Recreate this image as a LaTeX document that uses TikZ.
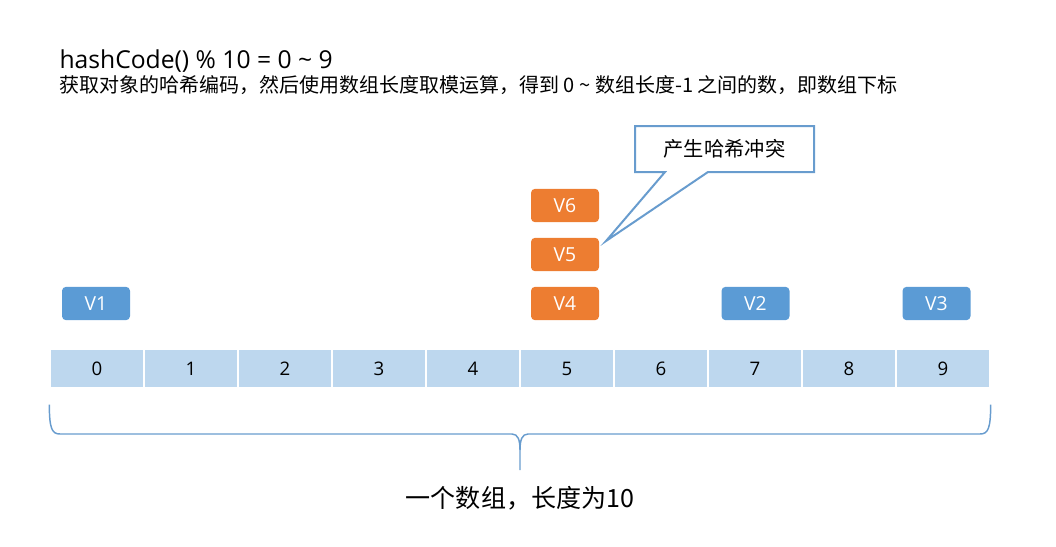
\documentclass[tikz,border=0pt]{standalone}
\usepackage{fontspec}
\setmainfont{Open Sans}
\newfontfamily\cjk{Noto Sans CJK SC}
\definecolor{cellblue}{RGB}{189,215,238}
\definecolor{vblue}{RGB}{91,155,213}
\definecolor{vorange}{RGB}{237,125,49}
\definecolor{lineblue}{RGB}{104,156,206}

\tikzset{every picture/.style={line width=0.75pt}}
\tikzset{
  cell/.style={draw=white, line width=1pt, fill=cellblue, minimum width=70.5pt, minimum height=29.25pt, inner sep=0pt, font=\fontsize{14}{14}\selectfont},
  vbox/.style={fill=vblue, rounded corners=3pt, minimum width=51pt, minimum height=25pt, inner sep=0pt, text=white, font=\fontsize{14.5}{14.5}\selectfont},
  vhot/.style={vbox, fill=vorange},
}

\begin{document}
\begin{tikzpicture}[x=0.75pt,y=0.75pt,yscale=-1,xscale=1]
\useasboundingbox (0,0) rectangle (1056,546);

% Array cells
\foreach \i in {0,...,9}
  \node [cell] (c\i) at ({97+94*\i},368.5) {\i};

% Values
\node [vbox] (v1) at (96,303.5) {V1};
\node [vbox] (v2) at (755.5,303.5) {V2};
\node [vbox] (v3) at (936.5,303.5) {V3};
\node [vhot] (v4) at (565,303.5) {V4};
\node [vhot] (v5) at (565,254.5) {V5};
\node [vhot] (v6) at (565,205.5) {V6};

% Callout
\draw [lineblue, line width=1.5pt, fill=white] (635,126) -- (814,126) -- (814,172) -- (708,172) -- (606,241) -- (665,172) -- (635,172) -- cycle ;
\node (clash) at (724.5,149) {\cjk\fontsize{15.2}{15.2}\selectfont 产生哈希冲突};

% Brace
\draw [lineblue, line width=1.1pt] (c0.south west) ++(0,16) .. controls +(0,24) and (52,434) .. (60,434) -- (512,434) .. controls (518,434) and (520,440) .. (520,450) -- (520,470) ;
\draw [lineblue, line width=1.1pt] (c9.south east) ++(0,16) .. controls +(0,24) and (988,434) .. (980,434) -- (528,434) .. controls (522,434) and (520,440) .. (520,450) ;

% Text Node
\draw (59,68) node [anchor=base west][inner sep=0pt] {\fontsize{18.5}{18.5}\selectfont hashCode() \% 10 = 0 \textasciitilde{} 9};
% Text Node
\draw (59,92) node [anchor=base west][inner sep=0pt] {\cjk\fontsize{15}{15}\selectfont 获取对象的哈希编码，然后使用数组长度取模运算，得到 0 \textasciitilde{} 数组长度-1 之间的数，即数组下标};
% Text Node
\draw (520,507) node [anchor=base][inner sep=0pt] {\cjk\fontsize{18.8}{18.8}\selectfont 一个数组，长度为10};

\end{tikzpicture}
\end{document}
